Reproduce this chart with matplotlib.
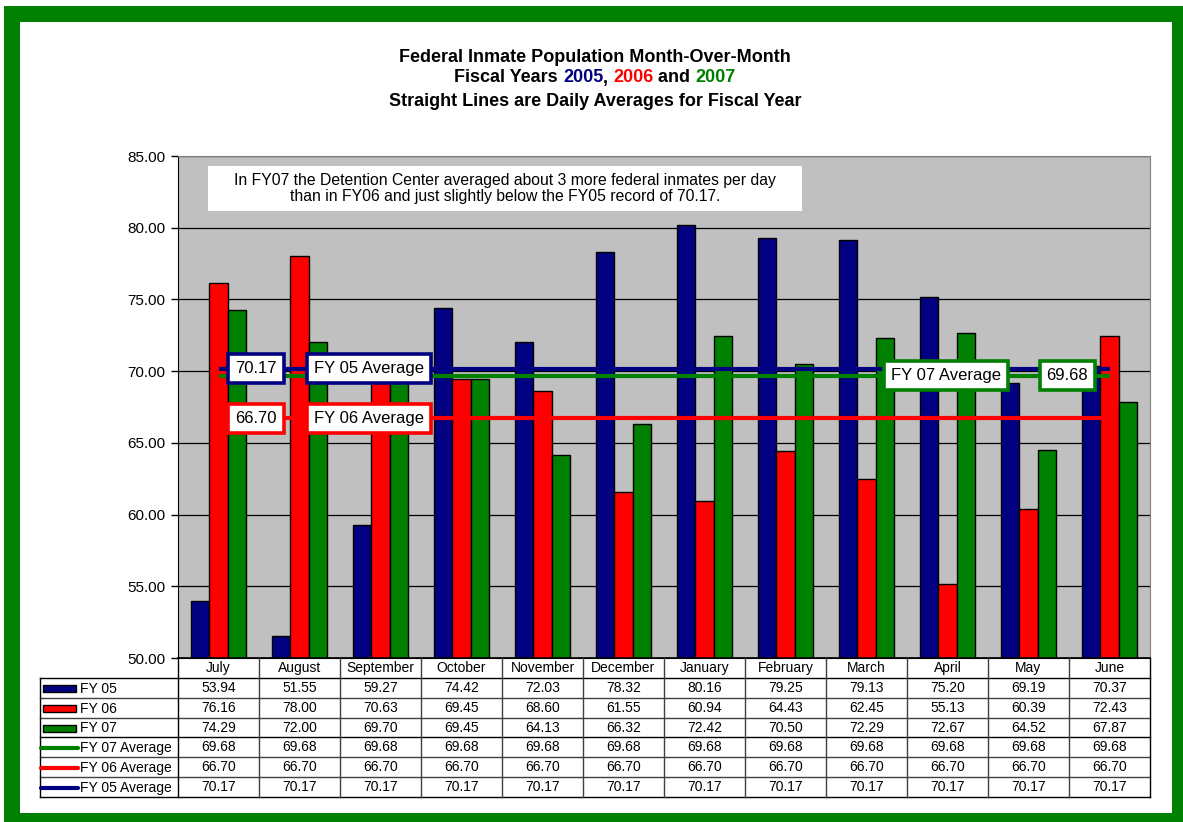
import numpy as np
import matplotlib
matplotlib.use('Agg')
import matplotlib.pyplot as plt
from matplotlib.patches import Rectangle
from matplotlib.ticker import FormatStrFormatter

plt.rcParams['font.family'] = ['Liberation Sans', 'DejaVu Sans']

months = ['July', 'August', 'September', 'October', 'November', 'December',
          'January', 'February', 'March', 'April', 'May', 'June']
fy05 = [53.94, 51.55, 59.27, 74.42, 72.03, 78.32, 80.16, 79.25, 79.13, 75.20, 69.19, 70.37]
fy06 = [76.16, 78.00, 70.63, 69.45, 68.60, 61.55, 60.94, 64.43, 62.45, 55.13, 60.39, 72.43]
fy07 = [74.29, 72.00, 69.70, 69.45, 64.13, 66.32, 72.42, 70.50, 72.29, 72.67, 64.52, 67.87]
avg07 = [69.68] * 12
avg06 = [66.70] * 12
avg05 = [70.17] * 12

NAVY = '#000080'
RED = '#FF0000'
GREEN = '#008000'

W, H = 1183, 822
fig = plt.figure(figsize=(W / 100, H / 100), dpi=100)


def box(l, t, r, b):
    # pixel box (top-left origin) -> figure fraction rect
    return [l / W, 1 - b / H, (r - l) / W, (b - t) / H]


# green frame around the whole picture
fig.add_artist(Rectangle((12 / W, 1 - 821 / H), 1168 / W, 807 / H, transform=fig.transFigure,
                         fill=False, ec=GREEN, lw=16 * 0.72, zorder=0))

# ---- main plot ----
ax = fig.add_axes(box(178, 156, 1150, 658))
ax.set_facecolor('#C0C0C0')
x = np.arange(len(months))
w = 0.23
ax.bar(x - w, fy05, w, color=NAVY, edgecolor='black', lw=1, zorder=3)
ax.bar(x, fy06, w, color=RED, edgecolor='black', lw=1, zorder=3)
ax.bar(x + w, fy07, w, color=GREEN, edgecolor='black', lw=1, zorder=3)

ax.plot(x, avg07, color=GREEN, lw=3, zorder=4, solid_capstyle='butt')
ax.plot(x, avg06, color=RED, lw=3, zorder=4, solid_capstyle='butt')
ax.plot(x, avg05, color=NAVY, lw=3, zorder=4, solid_capstyle='butt')

ax.set_xlim(-0.5, 11.5)
ax.set_ylim(50, 85)
ax.set_yticks(np.arange(50, 86, 5))
ax.yaxis.set_major_formatter(FormatStrFormatter('%.2f'))
ax.tick_params(axis='y', labelsize=11, length=5, width=1, direction='out', pad=4)
ax.set_xticks([])
ax.grid(axis='y', color='black', lw=0.9)
ax.set_axisbelow(True)
for s in ['top', 'right']:
    ax.spines[s].set_color('#808080')
ax.spines['left'].set_color('black')
ax.spines['bottom'].set_color('black')


def label(xp, yv, s, color):
    ax.text(xp, yv, s, ha='center', va='center', fontsize=12, zorder=6,
            bbox=dict(boxstyle='square,pad=0.42', fc='white', ec=color, lw=2.6))


label(0.46, avg05[0], '70.17', NAVY)
label(1.86, avg05[0], 'FY 05 Average', NAVY)
label(0.46, avg06[0], '66.70', RED)
label(1.86, avg06[0], 'FY 06 Average', RED)
label(8.98, avg07[0], 'FY 07 Average', GREEN)
label(10.48, avg07[0], '69.68', GREEN)

# note box
ax.add_patch(Rectangle((0.031, 0.890), 0.611, 0.090, transform=ax.transAxes,
                       fc='white', ec='none', zorder=5))
ax.text(0.3365, 0.935,
        'In FY07 the Detention Center averaged about 3 more federal inmates per day\n'
        'than in FY06 and just slightly below the FY05 record of 70.17.',
        transform=ax.transAxes, ha='center', va='center', fontsize=11.3,
        linespacing=1.05, zorder=6)

# ---- title ----
TS = 13
tkw = dict(fontsize=TS, fontweight='bold', ha='center', va='center')
fig.text(0.503, 1 - 58 / H, 'Federal Inmate Population Month-Over-Month', **tkw)
fig.text(0.503, 1 - 101 / H, 'Straight Lines are Daily Averages for Fiscal Year', **tkw)

pieces = [('Fiscal Years ', 'black'), ('2005', NAVY), (', ', 'black'), ('2006', RED),
          (' and ', 'black'), ('2007', GREEN)]
renderer = fig.canvas.get_renderer()


def text_w(s):
    t = fig.text(0, 0, s, fontsize=TS, fontweight='bold')
    wd = t.get_window_extent(renderer).width
    t.remove()
    return wd


full = ''.join(p for p, _ in pieces)
total = text_w(full + 'X') - text_w('X')
x0 = 0.503 * W - total / 2
prefix = ''
for p, c in pieces:
    off = text_w(prefix + 'X') - text_w('X') if prefix else 0
    fig.text((x0 + off) / W, 1 - 78 / H, p, fontsize=TS, fontweight='bold', color=c,
             ha='left', va='center')
    prefix += p

# ---- data table ----
L = (178 - 40) / ((1150 - 178) / 12)
tax = fig.add_axes(box(40, 658, 1150, 797))
tax.set_xlim(-0.5 - L, 11.5)
tax.set_ylim(6, -1)
tax.axis('off')

lc = '#404040'
tax.plot([-0.5, 11.5], [-1, -1], color='black', lw=1.2, clip_on=False)
for r in range(0, 7):
    tax.plot([-0.5 - L, 11.5], [r, r], color='black' if r in (0, 3, 6) else lc,
             lw=1, clip_on=False)
tax.plot([-0.5 - L, -0.5 - L], [0, 6], color='black', lw=1, clip_on=False)
for i in range(13):
    tax.plot([i - 0.5, i - 0.5], [-1, 6], color='black' if i in (0, 12) else lc,
             lw=1, clip_on=False)

TF = 10
for i, m in enumerate(months):
    tax.text(i, -0.5, m, ha='center', va='center', fontsize=TF)

rows = [('FY 05', fy05, NAVY, 'bar'), ('FY 06', fy06, RED, 'bar'), ('FY 07', fy07, GREEN, 'bar'),
        ('FY 07 Average', avg07, GREEN, 'line'), ('FY 06 Average', avg06, RED, 'line'),
        ('FY 05 Average', avg05, NAVY, 'line')]
cw = (1150 - 178) / 12
for r, (name, vals, c, kind) in enumerate(rows):
    yc = r + 0.55
    if kind == 'bar':
        tax.add_patch(Rectangle((-0.5 - L + 3 / cw, yc - 0.17), 33 / cw, 0.34, fc=c,
                                ec='black', lw=1, clip_on=False))
    else:
        tax.plot([-0.5 - L + 1 / cw, -0.5 - L + 38 / cw], [yc, yc], color=c, lw=3,
                 solid_capstyle='round', clip_on=False)
    tax.text(-0.5 - L + 40 / cw, yc, name, ha='left', va='center', fontsize=TF)
    for i, v in enumerate(vals):
        tax.text(i, r + 0.5, f'{v:.2f}', ha='center', va='center', fontsize=TF)

fig.savefig('out.png', dpi=100, facecolor='white')
